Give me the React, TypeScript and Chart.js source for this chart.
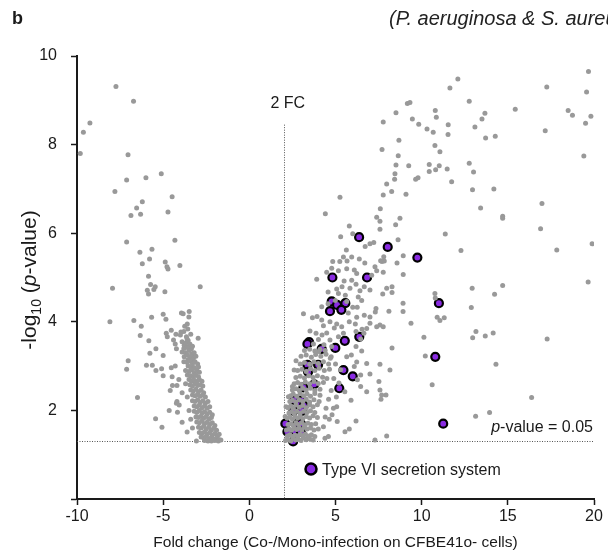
import React, { useEffect, useRef } from "react";
import { Chart, registerables } from "chart.js";

Chart.register(...registerables);

// ---- axes / thresholds ----
const xTickValues = [-10, -5, 0, 5, 10, 15, 20];
const yTickValues = [0, 2, 4, 6, 8, 10];
const foldChangeThreshold = 2;
const pValueThreshold = 0.05;
const fcLineTop = 8.45;

// ---- labels ----
const panelLabel = "b";
const headerText = "(P. aeruginosa & S. aureus)";
const xAxisTitle = "Fold change (Co-/Mono-infection on CFBE41o- cells)";
const fcLabel = "2 FC";
const legendLabel = "Type VI secretion system";

// ---- data: [fold change, -log10 p] ----
const downScattered: [number, number][] = [
  [-7.74, 9.31], [-6.72, 8.98], [-9.25, 8.49], [-9.63, 8.28], [-9.81, 7.8], [-7.04, 7.77], [-5.11, 7.34], [-6.0, 7.25],
  [-7.12, 7.2], [-7.8, 6.94], [-4.48, 6.82], [-6.21, 6.71], [-6.54, 6.57], [-6.87, 6.4], [-6.31, 6.43], [-4.72, 6.48],
  [-7.12, 5.8], [-4.32, 5.84], [-6.35, 5.57], [-5.65, 5.64], [-5.79, 5.42], [-6.21, 5.31], [-4.88, 5.35], [-4.78, 5.24],
  [-4.72, 5.19], [-4.03, 5.27], [-5.85, 5.03], [-7.94, 4.76], [-5.73, 4.84], [-5.46, 4.79], [-5.54, 4.73], [-5.92, 4.71],
  [-5.85, 4.63], [-4.9, 4.68], [-2.85, 4.79], [-8.09, 4.0], [-6.7, 4.03], [-6.27, 3.9], [-6.33, 3.69], [-5.83, 3.57],
  [-5.67, 4.1], [-5.0, 4.17], [-4.84, 4.06], [-3.94, 4.2], [-3.84, 4.18], [-3.49, 4.23], [-3.51, 4.11], [-4.53, 3.81],
  [-4.82, 3.74], [-4.76, 3.66], [-4.26, 3.72], [-4.4, 3.59], [-3.97, 3.77], [-3.57, 3.84], [-4.3, 3.5], [-4.23, 3.39],
  [-3.61, 3.61], [-2.97, 3.63], [-5.42, 3.39], [-5.77, 3.29], [-5.0, 3.24], [-7.03, 3.12], [-7.12, 2.93], [-5.97, 3.02],
  [-5.63, 3.02], [-5.09, 2.94], [-5.42, 2.9], [-4.53, 2.96], [-4.3, 3.0], [-3.78, 3.47], [-3.53, 3.44], [-3.36, 3.39],
  [-3.26, 3.28], [-3.78, 3.21], [-3.57, 3.14], [-3.3, 3.16], [-3.3, 3.09], [-5.0, 2.78], [-4.48, 2.76], [-4.09, 2.7],
  [-4.46, 2.56], [-4.2, 2.56], [-4.59, 2.45], [-6.49, 2.29], [-4.2, 2.2], [-4.07, 2.12], [-4.17, 1.96], [-4.23, 2.16],
  [-4.65, 2.0], [-5.44, 1.81], [-5.07, 1.62], [-3.9, 1.73], [-3.61, 1.51], [-3.07, 1.31],
];

const downBand: [number, number][] = [
  [-3.9, 3.55], [-3.7, 3.52], [-3.55, 3.58], [-3.45, 3.5], [-3.3, 3.45], [-3.6, 3.42], [-3.8, 3.4],
  [-3.9, 3.32], [-3.7, 3.3], [-3.5, 3.35], [-3.35, 3.28], [-3.2, 3.3], [-3.6, 3.25], [-3.45, 3.2], [-3.25, 3.18], [-3.1, 3.22],
  [-3.8, 3.1], [-3.6, 3.08], [-3.45, 3.12], [-3.3, 3.05], [-3.15, 3.1], [-3.0, 3.05], [-3.55, 3.0], [-3.4, 2.98], [-3.2, 2.96], [-2.95, 2.98],
  [-3.7, 2.9], [-3.5, 2.88], [-3.35, 2.92], [-3.2, 2.85], [-3.05, 2.9], [-2.9, 2.86], [-3.6, 2.8], [-3.4, 2.78], [-3.25, 2.75], [-3.1, 2.8], [-2.95, 2.76],
  [-3.5, 2.7], [-3.35, 2.66], [-3.2, 2.68], [-3.05, 2.65], [-2.9, 2.7], [-2.75, 2.66], [-3.45, 2.58], [-3.3, 2.55], [-3.15, 2.6], [-3.0, 2.56], [-2.85, 2.58], [-2.7, 2.55],
  [-3.4, 2.46], [-3.25, 2.44], [-3.1, 2.48], [-2.95, 2.42], [-2.8, 2.46], [-2.65, 2.4], [-3.3, 2.35], [-3.15, 2.33], [-3.0, 2.36], [-2.85, 2.32], [-2.7, 2.35], [-2.55, 2.3],
  [-3.3, 2.22], [-3.15, 2.2], [-3.0, 2.24], [-2.85, 2.18], [-2.7, 2.22], [-2.55, 2.16], [-2.4, 2.2], [-3.2, 2.1], [-3.05, 2.08], [-2.9, 2.12], [-2.75, 2.06], [-2.6, 2.1], [-2.45, 2.05], [-2.3, 2.08],
  [-3.2, 1.98], [-3.05, 1.95], [-2.9, 2.0], [-2.75, 1.94], [-2.6, 1.97], [-2.45, 1.92], [-2.3, 1.96], [-2.15, 1.9], [-3.1, 1.85], [-2.95, 1.84], [-2.8, 1.87], [-2.65, 1.82], [-2.5, 1.86], [-2.35, 1.8], [-2.2, 1.84],
  [-3.05, 1.74], [-2.9, 1.72], [-2.75, 1.76], [-2.6, 1.7], [-2.45, 1.73], [-2.3, 1.68], [-2.15, 1.72], [-2.0, 1.66], [-2.95, 1.62], [-2.8, 1.6], [-2.65, 1.64], [-2.5, 1.58], [-2.35, 1.62], [-2.2, 1.56], [-2.05, 1.6], [-1.9, 1.55],
  [-2.9, 1.5], [-2.75, 1.48], [-2.6, 1.52], [-2.45, 1.46], [-2.3, 1.5], [-2.15, 1.44], [-2.0, 1.48], [-1.85, 1.42], [-1.75, 1.46], [-2.8, 1.4], [-2.65, 1.38], [-2.5, 1.41], [-2.35, 1.36], [-2.2, 1.39], [-2.05, 1.35], [-1.9, 1.37], [-1.75, 1.34],
  [-2.6, 1.32], [-2.4, 1.31], [-2.2, 1.31], [-2.0, 1.32], [-1.8, 1.31], [-1.65, 1.33],
  [-4.0, 3.7], [-3.8, 3.78], [-3.65, 3.66], [-3.4, 3.72], [-3.75, 3.9], [-3.6, 3.95],
  [-3.7, 2.6], [-3.9, 2.4], [-3.6, 2.3], [-3.5, 2.0], [-3.4, 1.8], [-3.3, 1.6],
];

const upScattered: [number, number][] = [
  [9.17, 8.93], [9.32, 8.95], [8.51, 8.72], [7.77, 8.51], [9.46, 8.58], [9.83, 8.46], [8.68, 8.1], [7.7, 7.89], [8.64, 7.75],
  [8.51, 7.54], [9.25, 7.52], [8.45, 7.34], [8.43, 7.22], [9.65, 7.22], [9.79, 7.25], [7.97, 7.11], [8.26, 6.94], [7.77, 6.86],
  [9.09, 6.88], [5.26, 6.81], [4.41, 6.44], [7.6, 6.55], [7.39, 6.36], [8.74, 6.34],
  [12.1, 9.48], [11.64, 9.28], [17.26, 9.3], [19.68, 9.65], [19.57, 9.19], [12.76, 8.98], [10.79, 8.77], [10.85, 8.62],
  [10.31, 8.35], [10.67, 8.28], [11.54, 8.45], [11.53, 8.23], [15.43, 8.8], [13.67, 8.71], [13.5, 8.58], [13.09, 8.4],
  [13.71, 8.15], [14.27, 8.19], [18.5, 8.77], [18.75, 8.66], [19.82, 8.64], [19.51, 8.48], [17.17, 8.31], [10.77, 7.98],
  [11.06, 7.84], [19.41, 7.74], [10.44, 7.55], [11.02, 7.52], [10.81, 7.43], [10.44, 7.39], [11.48, 7.45], [12.76, 7.58],
  [13.01, 7.38], [11.74, 7.16], [12.95, 6.98], [14.19, 7.0], [13.42, 6.57], [16.98, 6.67], [14.7, 6.38], [14.7, 6.34],
  [7.58, 6.27], [8.49, 6.19], [7.58, 6.09], [11.37, 5.98], [16.9, 6.1], [8.63, 5.85], [12.28, 5.61], [17.84, 5.62],
  [19.89, 5.76], [8.93, 5.49], [7.8, 5.47],
  [7.7, 5.36], [7.83, 5.37], [8.57, 5.33], [8.93, 5.07], [7.97, 4.76], [8.28, 4.79], [7.74, 4.63], [8.28, 4.66],
  [10.77, 4.64], [10.79, 4.54], [12.93, 4.76], [14.23, 4.62], [14.7, 4.82], [19.66, 4.9], [8.92, 4.42], [8.1, 4.24],
  [8.92, 4.23], [12.88, 4.32], [10.9, 4.1], [11.06, 4.03], [11.31, 4.09], [9.38, 3.97], [7.58, 3.93], [13.15, 3.78],
  [12.96, 3.64], [13.69, 3.68], [14.15, 3.75], [17.28, 3.61], [10.13, 3.65], [8.28, 3.41], [10.21, 3.23], [7.58, 3.04],
  [14.31, 3.04], [10.61, 2.58], [7.58, 2.46], [7.68, 2.35], [7.93, 2.35], [7.64, 2.25], [16.38, 2.29], [13.13, 1.87],
  [13.94, 1.95], [7.97, 1.42],
  [5.8, 6.16], [6.0, 5.99], [5.3, 5.92], [5.63, 5.62], [5.46, 5.46], [5.94, 5.46], [5.25, 5.36], [5.67, 5.37], [6.38, 5.42],
  [6.7, 5.33], [7.0, 5.76], [7.22, 5.79], [6.72, 5.7], [7.62, 5.38], [4.84, 5.36], [4.78, 5.21], [4.49, 5.12], [3.91, 4.96],
  [5.17, 5.15], [5.65, 5.2], [6.09, 5.17], [6.23, 5.09], [7.29, 5.24], [7.39, 5.15], [7.1, 5.05], [7.77, 5.12],
  [5.5, 4.92], [5.94, 4.94], [6.19, 4.85], [5.84, 4.76], [5.38, 4.79], [5.07, 4.74], [4.57, 4.67], [5.17, 4.64], [5.57, 4.6],
  [6.42, 4.7], [6.32, 4.56], [6.67, 4.79], [7.0, 4.72],
  [4.2, 4.34], [4.57, 4.41], [4.99, 4.48], [5.65, 4.46], [6.0, 4.33], [6.26, 4.33], [6.52, 4.48], [5.74, 4.2], [6.23, 4.1],
  [6.67, 4.15], [7.0, 4.11], [7.31, 4.22], [7.35, 4.3],
  [3.14, 4.18], [3.66, 4.09], [3.93, 4.12], [4.2, 4.04], [4.68, 4.0], [5.07, 3.95], [5.36, 3.89], [4.93, 3.86], [4.3, 3.91],
  [5.8, 4.0], [6.15, 3.95], [6.54, 3.83], [6.81, 3.85], [7.0, 3.97], [7.39, 3.89], [7.77, 3.89], [6.19, 3.78], [6.65, 3.74], [6.46, 3.61],
  [3.52, 3.79], [3.87, 3.74], [4.22, 3.7], [4.49, 3.75], [4.01, 3.6], [4.68, 3.59], [5.17, 3.66], [5.46, 3.74], [4.78, 3.44],
  [4.33, 3.48], [3.72, 3.5], [4.03, 3.33], [8.16, 2.91],
  [6.19, 3.44], [6.52, 3.34], [5.92, 3.25], [5.65, 3.21], [6.23, 3.09], [6.81, 3.06], [6.09, 2.99], [7.0, 2.82], [6.46, 2.8],
  [5.54, 2.42], [6.27, 2.69], [6.46, 2.54], [6.81, 2.42], [5.9, 2.23], [7.52, 2.65], [5.07, 2.08], [4.88, 2.05], [4.64, 1.8],
  [4.3, 1.63], [5.8, 1.58], [5.55, 1.52], [6.19, 1.76], [7.29, 1.33], [4.39, 1.37], [4.59, 1.41],
  [2.71, 3.12], [2.6, 2.91], [2.5, 2.54], [2.27, 2.31], [2.13, 2.08], [2.08, 1.86],
  [4.7, 3.18], [5.0, 3.05], [5.3, 2.92], [4.9, 2.72], [5.2, 2.62], [4.75, 2.45], [5.05, 2.3], [4.6, 2.25], [4.45, 2.05],
  [4.8, 1.9], [5.1, 1.75], [4.4, 1.85],
];

const upBand: [number, number][] = [
  [2.1, 1.32], [2.25, 1.34], [2.4, 1.31], [2.55, 1.36], [2.7, 1.33], [2.85, 1.35], [3.0, 1.32], [3.15, 1.38], [3.3, 1.34], [3.5, 1.36], [3.7, 1.33],
  [2.2, 1.42], [2.35, 1.45], [2.5, 1.41], [2.65, 1.44], [2.8, 1.42], [2.95, 1.46], [3.1, 1.43], [3.25, 1.47], [3.4, 1.42], [3.6, 1.45], [3.8, 1.41],
  [2.15, 1.56], [2.3, 1.58], [2.45, 1.55], [2.6, 1.6], [2.75, 1.57], [2.9, 1.6], [3.05, 1.56], [3.2, 1.62], [3.35, 1.58], [3.55, 1.6], [3.75, 1.56], [4.0, 1.58],
  [2.25, 1.68], [2.4, 1.7], [2.55, 1.66], [2.7, 1.72], [2.85, 1.68], [3.05, 1.72], [3.2, 1.67], [3.4, 1.71], [3.6, 1.68], [3.85, 1.7],
  [2.2, 1.82], [2.35, 1.85], [2.5, 1.8], [2.65, 1.86], [2.8, 1.82], [2.95, 1.87], [3.1, 1.81], [3.3, 1.86], [3.5, 1.83], [3.7, 1.88], [3.95, 1.84],
  [2.3, 1.94], [2.45, 1.97], [2.6, 1.93], [2.75, 1.98], [2.95, 1.94], [3.15, 1.98], [3.35, 1.95], [3.55, 1.99], [3.8, 1.95],
  [2.25, 2.06], [2.4, 2.1], [2.55, 2.05], [2.7, 2.12], [2.9, 2.07], [3.1, 2.11], [3.3, 2.06], [3.5, 2.12], [3.7, 2.08], [3.95, 2.13],
  [2.35, 2.2], [2.5, 2.23], [2.7, 2.19], [2.9, 2.24], [3.1, 2.2], [3.3, 2.25], [3.5, 2.19], [3.75, 2.24], [4.05, 2.2],
  [2.4, 2.33], [2.55, 2.37], [2.75, 2.32], [2.95, 2.38], [3.15, 2.33], [3.35, 2.37], [3.55, 2.32], [3.8, 2.38], [4.1, 2.34],
  [2.5, 2.46], [2.7, 2.49], [2.9, 2.45], [3.1, 2.5], [3.3, 2.46], [3.55, 2.5], [3.8, 2.45], [4.1, 2.48],
  [2.6, 2.6], [2.8, 2.63], [3.0, 2.59], [3.25, 2.64], [3.5, 2.6], [3.75, 2.65], [4.0, 2.61], [4.3, 2.63],
  [2.7, 2.74], [2.95, 2.77], [3.2, 2.73], [3.45, 2.78], [3.7, 2.74], [3.95, 2.78], [4.25, 2.75], [4.5, 2.72],
  [2.8, 2.9], [3.05, 2.93], [3.3, 2.88], [3.55, 2.94], [3.8, 2.9], [4.05, 2.95], [4.35, 2.9], [4.65, 2.93],
  [2.95, 3.05], [3.2, 3.08], [3.5, 3.04], [3.75, 3.1], [4.0, 3.06], [4.3, 3.1], [4.6, 3.05],
  [3.0, 3.22], [3.3, 3.25], [3.6, 3.2], [3.85, 3.26], [4.15, 3.22], [4.45, 3.27], [4.75, 3.21],
  [3.2, 3.35], [3.5, 3.38], [3.8, 3.34], [4.1, 3.38], [4.4, 3.35],
];

const typeVI: [number, number][] = [
  [6.37, 5.91], [8.03, 5.69], [9.75, 5.45], [4.82, 5.0], [6.83, 5.0], [4.78, 4.46], [5.09, 4.38], [5.57, 4.42], [5.34, 4.27],
  [4.68, 4.24], [11.0, 4.42], [3.47, 3.54], [3.37, 3.5], [4.2, 3.39], [4.99, 3.41], [5.54, 3.57], [6.38, 3.66], [10.79, 3.21],
  [3.37, 3.03], [3.99, 3.03], [3.41, 2.87], [5.46, 2.91], [6.0, 2.77], [3.76, 2.59], [3.14, 2.52], [5.22, 2.5], [2.61, 2.23],
  [3.02, 2.22], [2.9, 2.12], [3.16, 2.11], [2.56, 1.99], [3.06, 1.99], [2.09, 1.7], [2.79, 1.7], [2.99, 1.7], [2.21, 1.52],
  [2.67, 1.52], [2.99, 1.52], [2.54, 1.3], [11.25, 1.7],
];

const FONT = "'Liberation Sans', Arial, Helvetica, sans-serif";
const GRAY = "#999999";
const PURPLE = "#8a2be2";
const INK = "#1a1a1a";

type Part = { text: string; font: string; dy?: number };

function drawParts(ctx: CanvasRenderingContext2D, parts: Part[], x: number, y: number, align: "left" | "center" | "right") {
  ctx.textAlign = "left";
  ctx.textBaseline = "alphabetic";
  let total = 0;
  for (const p of parts) {
    ctx.font = p.font;
    total += ctx.measureText(p.text).width;
  }
  let cx = align === "center" ? x - total / 2 : align === "right" ? x - total : x;
  for (const p of parts) {
    ctx.font = p.font;
    ctx.fillText(p.text, cx, y + (p.dy || 0));
    cx += ctx.measureText(p.text).width;
  }
}

const annotationPlugin = {
  id: "volcanoAnnotations",
  beforeDatasetsDraw(chart: any) {
    const { ctx, scales } = chart;
    const xs = scales.x;
    const ys = scales.y;
    ctx.save();
    ctx.strokeStyle = "#555";
    ctx.lineWidth = 1;
    ctx.setLineDash([1, 1.5]);
    const xl = Math.round(xs.getPixelForValue(foldChangeThreshold)) + 0.5;
    ctx.beginPath();
    ctx.moveTo(xl, ys.getPixelForValue(fcLineTop));
    ctx.lineTo(xl, ys.getPixelForValue(0));
    ctx.stroke();
    const yl = Math.round(ys.getPixelForValue(-Math.log10(pValueThreshold))) + 0.5;
    ctx.beginPath();
    ctx.moveTo(xs.getPixelForValue(xs.min), yl);
    ctx.lineTo(xs.getPixelForValue(xs.max), yl);
    ctx.stroke();
    ctx.restore();
  },
  afterDraw(chart: any) {
    const { ctx, scales, chartArea } = chart;
    const xs = scales.x;
    const ys = scales.y;
    ctx.save();
    ctx.fillStyle = INK;

    // panel label and header
    drawParts(ctx, [{ text: panelLabel, font: `bold 18px ${FONT}` }], 12, 24, "left");
    ctx.fillStyle = "#222";
    drawParts(ctx, [{ text: headerText, font: `italic 20px ${FONT}` }], 389, 25, "left");
    ctx.fillStyle = INK;

    // 2 FC label
    const xl = xs.getPixelForValue(foldChangeThreshold);
    drawParts(ctx, [{ text: fcLabel, font: `16px ${FONT}` }], xl + 4, ys.getPixelForValue(fcLineTop) - 17, "center");

    // p-value label
    const yl = ys.getPixelForValue(-Math.log10(pValueThreshold));
    drawParts(
      ctx,
      [
        { text: "p", font: `italic 16px ${FONT}` },
        { text: "-value = 0.05", font: `16px ${FONT}` },
      ],
      chartArea.right - 1,
      yl - 9,
      "right"
    );

    // legend
    const lx = 311;
    const ly = 469;
    ctx.beginPath();
    ctx.arc(lx, ly, 5.5, 0, Math.PI * 2);
    ctx.fillStyle = PURPLE;
    ctx.fill();
    ctx.lineWidth = 2.5;
    ctx.strokeStyle = "#000";
    ctx.stroke();
    ctx.fillStyle = INK;
    drawParts(ctx, [{ text: legendLabel, font: `16px ${FONT}` }], lx + 11, ly + 6, "left");

    // x title
    drawParts(ctx, [{ text: xAxisTitle, font: `15.5px ${FONT}` }], (chartArea.left + chartArea.right) / 2, 547, "center");

    // y title (rotated)
    ctx.translate(36, 280);
    ctx.rotate(-Math.PI / 2);
    drawParts(
      ctx,
      [
        { text: "-log", font: `21px ${FONT}` },
        { text: "10", font: `14px ${FONT}`, dy: 5 },
        { text: " (", font: `21px ${FONT}` },
        { text: "p", font: `italic 21px ${FONT}` },
        { text: "-value)", font: `21px ${FONT}` },
      ],
      0,
      0,
      "center"
    );
    ctx.restore();
  },
};

function toPoints(arr: [number, number][]) {
  return arr.map(([x, y]) => ({ x, y }));
}

export default function App() {
  const canvasRef = useRef<HTMLCanvasElement | null>(null);

  useEffect(() => {
    if (!canvasRef.current) return;
    const chart = new Chart(canvasRef.current, {
      type: "scatter",
      data: {
        datasets: [
          {
            label: "down",
            data: toPoints([...downScattered, ...downBand]),
            backgroundColor: GRAY,
            borderWidth: 0,
            pointRadius: 2.5,
            pointHoverRadius: 2.5,
          },
          {
            label: "up",
            data: toPoints([...upScattered, ...upBand]),
            backgroundColor: GRAY,
            borderWidth: 0,
            pointRadius: 2.5,
            pointHoverRadius: 2.5,
          },
          {
            label: legendLabel,
            data: toPoints(typeVI),
            backgroundColor: PURPLE,
            borderColor: "#000",
            borderWidth: 2.2,
            pointRadius: 4,
            pointHoverRadius: 4,
          },
        ],
      },
      options: {
        animation: false,
        responsive: true,
        maintainAspectRatio: false,
        layout: { padding: { top: 56, right: 14, left: 0, bottom: 0 } },
        plugins: {
          legend: { display: false },
          tooltip: { enabled: false },
          title: { display: false },
        },
        scales: {
          x: {
            type: "linear",
            min: xTickValues[0],
            max: xTickValues[xTickValues.length - 1],
            afterBuildTicks: (scale: any) => {
              scale.ticks = xTickValues.map((v) => ({ value: v }));
            },
            afterFit: (scale: any) => {
              scale.height = 55;
            },
            ticks: {
              color: INK,
              font: { family: FONT, size: 16 },
              padding: 2,
              maxRotation: 0,
            },
            grid: {
              drawOnChartArea: false,
              drawTicks: true,
              tickLength: 6,
              tickColor: INK,
              tickWidth: 1.5,
            },
            border: { display: true, color: INK, width: 2 },
          },
          y: {
            type: "linear",
            min: yTickValues[0],
            max: yTickValues[yTickValues.length - 1],
            afterBuildTicks: (scale: any) => {
              scale.ticks = yTickValues.map((v) => ({ value: v }));
            },
            afterFit: (scale: any) => {
              scale.width = 77;
            },
            ticks: {
              color: INK,
              font: { family: FONT, size: 16 },
              padding: 14,
              callback: (v: any) => (v === 0 ? "" : String(v)),
            },
            grid: {
              drawOnChartArea: false,
              drawTicks: true,
              tickLength: 6,
              tickColor: INK,
              tickWidth: 1.5,
            },
            border: { display: true, color: INK, width: 2 },
          },
        },
      },
      plugins: [annotationPlugin],
    });
    return () => chart.destroy();
  }, []);

  return (
    <div style={{ position: "fixed", left: 0, top: 0, width: 608, height: 554, background: "#fff" }}>
      <canvas ref={canvasRef} />
    </div>
  );
}
